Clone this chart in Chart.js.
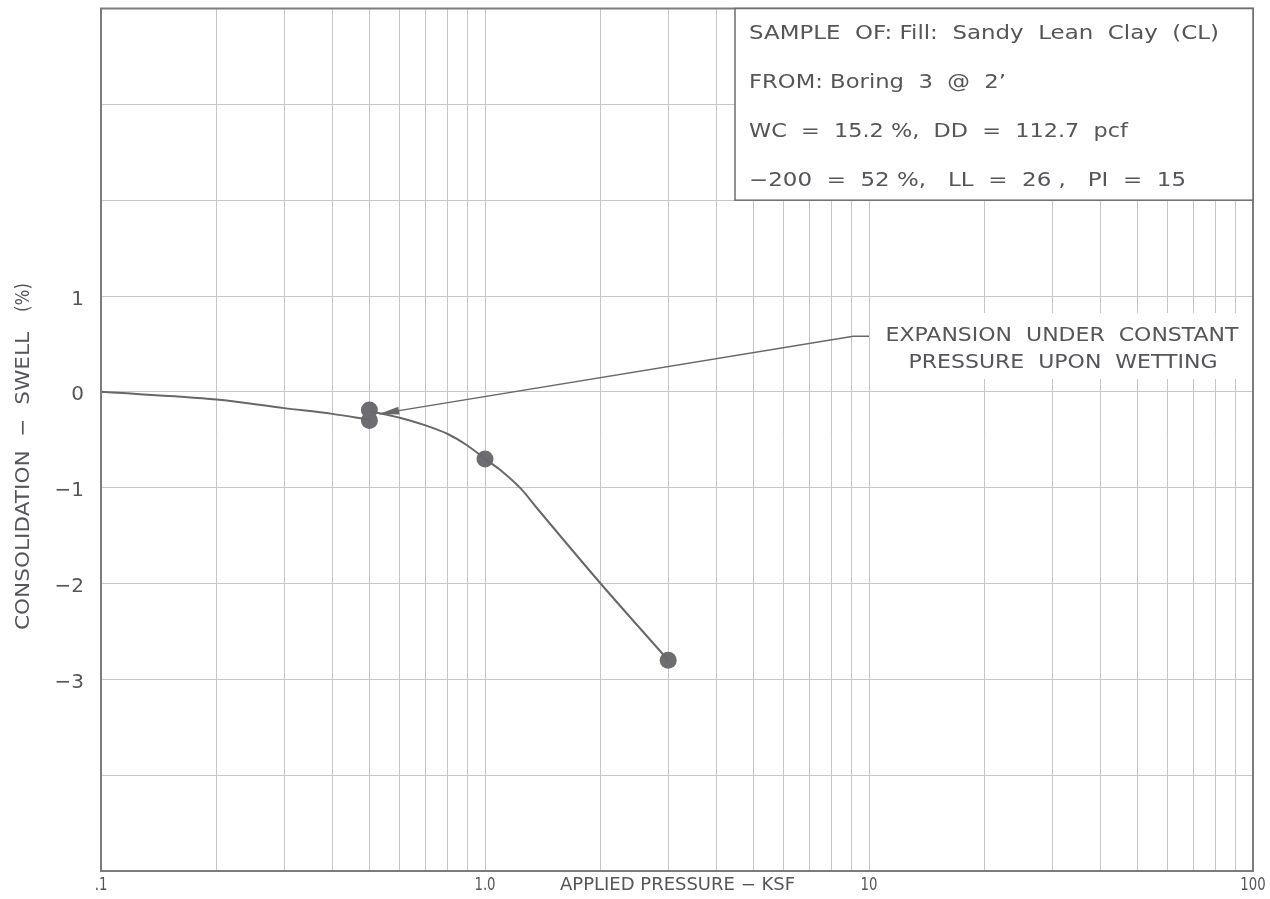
<!DOCTYPE html>
<html>
<head>
<meta charset="utf-8">
<script src="https://cdn.jsdelivr.net/npm/chart.js@4/dist/chart.umd.min.js"></script>
<style>
  html, body { margin: 0; padding: 0; background: #ffffff; }
  #wrap { width: 1270px; height: 899px; }
</style>
</head>
<body>
<div id="wrap"><canvas id="c" width="1270" height="899"></canvas></div>
<script>
// ---------------- DATA ----------------
// Loading curve before wetting (pressure ksf, consolidation-swell %)
const dryPressure = [0.1, 0.2, 0.3, 0.4, 0.5];
const drySwell    = [0, -0.08, -0.17, -0.23, -0.29];
// Loading curve after wetting
const wetPressure = [0.5, 0.6, 0.7, 0.8, 0.9, 1.0, 1.1, 1.24, 1.37, 2.0, 3.0];
const wetSwell    = [-0.2, -0.27, -0.35, -0.44, -0.56, -0.70, -0.82, -1.01, -1.22, -2.0, -2.8];
// Measured test points
const testPressure = [0.5, 0.5, 1.0, 3.0];
const testSwell    = [-0.19, -0.30, -0.70, -2.8];
// Axis grids / tick labels
const xGrid = [0.1,0.2,0.3,0.4,0.5,0.6,0.7,0.8,0.9,1,2,3,4,5,6,7,8,9,10,20,30,40,50,60,70,80,90,100];
const xTickValues = [0.1, 1, 10, 100];
const xTickLabels = ['.1', '1.0', '10', '100'];
const yGrid = [-5,-4,-3,-2,-1,0,1,2,3,4];
const yTickValues = [1, 0, -1, -2, -3];
const yTickLabels = ['1', '0', '\u22121', '\u22122', '\u22123'];
// Texts
const xTitle = 'APPLIED PRESSURE \u2212 KSF';
const yTitleMain = 'CONSOLIDATION  \u2212  SWELL';
const yTitleUnit = '(%)';
const infoLines = [
  'SAMPLE  OF: Fill:  Sandy  Lean  Clay  (CL)',
  'FROM: Boring  3  @  2\u2019',
  'WC  =  15.2 %,  DD  =  112.7  pcf',
  '\u2212200  =  52 %,   LL  =  26 ,   PI  =  15'
];
const noteLines = ['EXPANSION  UNDER  CONSTANT', 'PRESSURE  UPON  WETTING'];
// Annotation arrow anchor points (data space)
const arrowTip   = {p: 0.53, s: -0.23};
const arrowElbow = {p: 9.1,  s: 0.58};
const arrowEnd   = {p: 10.0, s: 0.58};

// ---------------- STYLE ----------------
const INK = '#55555a';
const LINE = '#67676c';
const FONT = '"DejaVu Sans", "Liberation Sans", sans-serif';

function fitText(ctx, text, x, y, w, align, size) {
  ctx.save();
  ctx.font = size + 'px ' + FONT;
  const m = ctx.measureText(text).width;
  const sx = w / m;
  let x0 = x;
  if (align === 'center') x0 = x - w / 2;
  else if (align === 'right') x0 = x - w;
  ctx.translate(x0, y);
  ctx.scale(sx, 1);
  ctx.textAlign = 'left';
  ctx.textBaseline = 'alphabetic';
  ctx.fillStyle = INK;
  ctx.fillText(text, 0, 0);
  ctx.restore();
}
function scaledText(ctx, text, x, y, sx, align, size) {
  ctx.save();
  ctx.font = size + 'px ' + FONT;
  const w = ctx.measureText(text).width * sx;
  fitText(ctx, text, x, y, w, align, size);
  ctx.restore();
}

const decor = {
  id: 'decor',
  afterDraw(chart) {
    const ctx = chart.ctx;
    const xs = chart.scales.x, ys = chart.scales.y;
    const a = chart.chartArea;

    // plot border
    ctx.save();
    ctx.strokeStyle = '#7c7c7c';
    ctx.lineWidth = 2;
    ctx.strokeRect(a.left, a.top, a.right - a.left, a.bottom - a.top);
    ctx.restore();

    // info box
    const bx = 735, by = a.top, bw = a.right - 735, bh = ys.getPixelForValue(2) - a.top;
    ctx.save();
    ctx.fillStyle = '#ffffff';
    ctx.fillRect(bx, by, bw, bh);
    ctx.strokeStyle = '#6e6e6e';
    ctx.lineWidth = 1.5;
    ctx.strokeRect(bx, by, bw, bh);
    ctx.restore();
    const infoW = [470, 257, 379, 437];
    const infoY = [38.5, 87.6, 136.8, 186];
    infoLines.forEach((t, i) => fitText(ctx, t, 749, infoY[i], infoW[i], 'left', 19));

    // note background + text
    ctx.save();
    ctx.fillStyle = '#ffffff';
    ctx.fillRect(873, 313, a.right - 1 - 873, 66);
    ctx.restore();
    fitText(ctx, noteLines[0], 1062, 340.5, 353, 'center', 20);
    fitText(ctx, noteLines[1], 1063, 367.5, 309, 'center', 20);

    // arrow
    const tx = xs.getPixelForValue(arrowTip.p), ty = ys.getPixelForValue(arrowTip.s);
    const ex = xs.getPixelForValue(arrowElbow.p), ey = ys.getPixelForValue(arrowElbow.s);
    const fx = xs.getPixelForValue(arrowEnd.p), fy = ys.getPixelForValue(arrowEnd.s);
    ctx.save();
    ctx.strokeStyle = LINE;
    ctx.lineWidth = 1.5;
    ctx.beginPath();
    ctx.moveTo(fx, fy);
    ctx.lineTo(ex, ey);
    ctx.lineTo(tx, ty);
    ctx.stroke();
    const ang = Math.atan2(ey - ty, ex - tx);
    const L = 20, H = 4;
    ctx.fillStyle = LINE;
    ctx.beginPath();
    ctx.moveTo(tx, ty);
    ctx.lineTo(tx + L * Math.cos(ang) - H * Math.sin(ang), ty + L * Math.sin(ang) + H * Math.cos(ang));
    ctx.lineTo(tx + L * Math.cos(ang) + H * Math.sin(ang), ty + L * Math.sin(ang) - H * Math.cos(ang));
    ctx.closePath();
    ctx.fill();
    ctx.restore();

    // y tick labels
    ctx.save();
    ctx.font = '20px ' + FONT;
    ctx.fillStyle = INK;
    ctx.textAlign = 'right';
    ctx.textBaseline = 'alphabetic';
    yTickValues.forEach((v, i) => {
      ctx.fillText(yTickLabels[i], 84, ys.getPixelForValue(v) + 8.5);
    });
    ctx.restore();

    // x tick labels
    xTickValues.forEach((v, i) => {
      scaledText(ctx, xTickLabels[i], xs.getPixelForValue(v), 890, 0.78, 'center', 17);
    });
    fitText(ctx, xTitle, 560, 890, 235, 'left', 17);

    // y title (rotated)
    ctx.save();
    ctx.translate(29, 0);
    ctx.rotate(-Math.PI / 2);
    fitText(ctx, yTitleMain, -481, 0, 298, 'center', 20);
    fitText(ctx, yTitleUnit, -297.5, 0, 29, 'center', 20);
    ctx.restore();
  }
};

const toXY = (xs, ys) => xs.map((x, i) => ({x: x, y: ys[i]}));

new Chart(document.getElementById('c'), {
  type: 'line',
  data: {
    datasets: [
      {
        data: toXY(dryPressure, drySwell),
        borderColor: LINE, borderWidth: 2, pointRadius: 0,
        cubicInterpolationMode: 'monotone', fill: false
      },
      {
        data: toXY(wetPressure, wetSwell),
        borderColor: LINE, borderWidth: 2, pointRadius: 0,
        cubicInterpolationMode: 'monotone', fill: false
      },
      {
        type: 'scatter',
        data: toXY(testPressure, testSwell),
        showLine: false,
        pointRadius: 8.5, pointHoverRadius: 8.5,
        backgroundColor: '#6d6d71', borderColor: '#6d6d71', borderWidth: 0
      }
    ]
  },
  options: {
    responsive: false,
    devicePixelRatio: 1,
    animation: false,
    layout: { padding: { left: 101, right: 17, top: 7, bottom: 28 } },
    plugins: { legend: { display: false }, tooltip: { enabled: false } },
    scales: {
      x: {
        type: 'logarithmic', min: 0.1, max: 100,
        afterBuildTicks: s => { s.ticks = xGrid.map(v => ({value: v})); },
        afterFit: s => { s.height = 0; },
        ticks: { display: false },
        border: { display: false },
        grid: { color: '#c6c6c6', lineWidth: 1, drawTicks: false }
      },
      y: {
        type: 'linear', min: -5, max: 4,
        afterBuildTicks: s => { s.ticks = yGrid.map(v => ({value: v})); },
        afterFit: s => { s.width = 0; },
        ticks: { display: false },
        border: { display: false },
        grid: { color: '#c6c6c6', lineWidth: 1, drawTicks: false }
      }
    }
  },
  plugins: [decor]
});
</script>
</body>
</html>
